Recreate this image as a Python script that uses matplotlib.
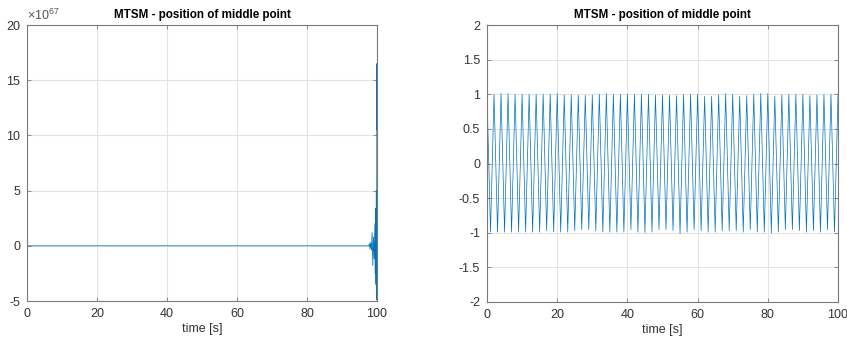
import numpy as np
import matplotlib
matplotlib.use("Agg")
import matplotlib.pyplot as plt

plt.rcParams['font.family'] = ['Liberation Sans', 'DejaVu Sans']
plt.rcParams['axes.unicode_minus'] = False
plt.rcParams['mathtext.default'] = 'regular'

# left panel: solution blows up near the end (values in units of 1e67)
left_t = [0, 97.6, 97.8, 98.0, 98.2, 98.4, 98.6, 98.8, 99.0, 99.2,
          99.4, 99.5, 99.6, 99.7, 99.8, 99.9, 99.95, 100.0]
left_y = [0, 0, 0.2, -0.3, 0.3, -0.4, 1.2, -1.8, 0.8, -1.2,
          2.0, -2.5, 3.4, -3.5, 5.0, -4.9, 16.5, 10.5]

# right panel: stable oscillation, extreme values read per half period
right_start = 1.0
right_troughs = [-0.99, -0.99, -0.99, -0.99, -0.99, -0.99, -0.99, -0.99, -0.97, -0.985,
                 -0.99, -0.99, -0.97, -0.955, -0.955, -0.97, -0.99, -0.99, -0.99, -0.99,
                 -0.955, -0.99, -0.995, -0.99, -0.955, -0.955, -0.97, -1.01, -0.99, -0.955,
                 -0.97, -0.99, -0.99, -0.97, -0.97, -0.97, -0.99, -0.955, -0.99, -0.99,
                 -1.005, -0.99, -0.955, -0.955, -0.97, -0.99, -0.97, -0.99, -0.955, -0.99]
right_peaks = [1.00, 1.01, 1.01, 1.00, 1.00, 1.00, 1.00, 1.00, 1.00, 1.01,
               0.99, 0.99, 0.985, 0.985, 0.99, 1.00, 1.01, 1.00, 1.00, 1.00,
               1.00, 1.00, 1.00, 0.99, 0.99, 0.985, 0.98, 0.995, 1.00, 1.00,
               0.97, 0.97, 0.99, 1.01, 1.00, 0.97, 0.98, 1.00, 1.01, 1.01,
               0.975, 0.99, 1.00, 1.00, 1.00, 0.98, 0.99, 1.00, 1.00, 1.00]

right_y = [right_start]
for tr, pk in zip(right_troughs, right_peaks):
    right_y += [tr, pk]
right_t = np.arange(len(right_y))

line_color = '#0072BD'
edge = '#7a7a7a'
txt = '#333333'

fig = plt.figure(figsize=(8.47, 3.38), dpi=100)
ax1 = fig.add_axes([27 / 847, 1 - 301 / 338, 350 / 847, 276 / 338])
ax2 = fig.add_axes([487 / 847, 1 - 302 / 338, 351 / 847, 277 / 338])

ax1.plot(left_t, left_y, color=line_color, lw=0.55)
ax1.set_ylim(-5, 20)
ax1.set_yticks([-5, 0, 5, 10, 15, 20])
ax1.text(0.0, 1.008, r'$\times10^{67}$', transform=ax1.transAxes,
         fontsize=9, color='#555555', ha='left', va='bottom')

ax2.plot(right_t, right_y, color=line_color, lw=0.5)
ax2.set_ylim(-2, 2)
ax2.set_yticks([-2, -1.5, -1, -0.5, 0, 0.5, 1, 1.5, 2])
ax2.set_yticklabels(['-2', '-1.5', '-1', '-0.5', '0', '0.5', '1', '1.5', '2'])

for ax in (ax1, ax2):
    ax.set_xlim(0, 100)
    ax.set_xticks([0, 20, 40, 60, 80, 100])
    ax.grid(True, color='#e3e3e3', lw=0.8)
    ax.set_axisbelow(True)
    for s in ax.spines.values():
        s.set_color(edge)
        s.set_linewidth(0.8)
    ax.tick_params(direction='in', length=3, width=0.6, color=edge,
                   top=True, right=True, labelsize=9, labelcolor=txt, pad=5)
    ax.set_title('MTSM - position of middle point', fontsize=8.4,
                 fontweight='bold', pad=5)
    ax.set_xlabel('time [s]', fontsize=9, color=txt, labelpad=2)

fig.savefig('out.png', dpi=100)
